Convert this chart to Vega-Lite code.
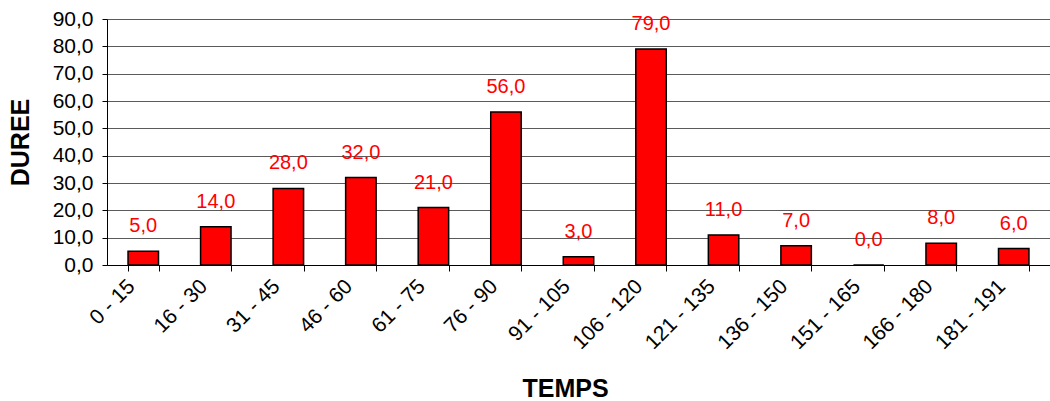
{
  "$schema": "https://vega.github.io/schema/vega-lite/v6.json",
  "autosize": {"type": "none"},
  "padding": {"left": 107, "top": 19, "right": 0, "bottom": 136},
  "width": 943,
  "height": 246,
  "config": {
    "locale": {"number": {"decimal": ",", "thousands": " ", "grouping": [3], "currency": ["", " €"]}},
    "view": {"stroke": null},
    "font": "Liberation Sans"
  },
  "data": {
    "values": [
      {"temps": "0 - 15", "duree": 5},
      {"temps": "16 - 30", "duree": 14},
      {"temps": "31 - 45", "duree": 28},
      {"temps": "46 - 60", "duree": 32},
      {"temps": "61 - 75", "duree": 21},
      {"temps": "76 - 90", "duree": 56},
      {"temps": "91 - 105", "duree": 3},
      {"temps": "106 - 120", "duree": 79},
      {"temps": "121 - 135", "duree": 11},
      {"temps": "136 - 150", "duree": 7},
      {"temps": "151 - 165", "duree": 0},
      {"temps": "166 - 180", "duree": 8},
      {"temps": "181 - 191", "duree": 6}
    ]
  },
  "encoding": {
    "x": {
      "field": "temps",
      "type": "nominal",
      "sort": null,
      "scale": {"paddingInner": 0.58, "paddingOuter": 0.29},
      "axis": {
        "title": "TEMPS",
        "titleFont": "Liberation Sans",
        "titleFontSize": 25,
        "titleFontWeight": "bold",
        "titleColor": "#000000",
        "titleX": 458,
        "titleY": 131,
        "titleAlign": "center",
        "titleBaseline": "alphabetic",
        "labelAngle": -45,
        "labelAlign": "right",
        "labelBaseline": "middle",
        "labelFontSize": 21,
        "labelColor": "#000000",
        "labelPadding": 12,
        "labelOffset": -12,
        "tickBand": "extent",
        "tickSize": 6,
        "tickColor": "#000000",
        "domainColor": "#000000",
        "grid": false
      }
    },
    "y": {
      "field": "duree",
      "type": "quantitative",
      "scale": {"domain": [0, 90], "nice": false},
      "axis": {
        "title": "DUREE",
        "titleFont": "Liberation Sans",
        "titleFontSize": 25,
        "titleFontWeight": "bold",
        "titleColor": "#000000",
        "titleX": -87,
        "titleY": 123,
        "titleAngle": 270,
        "titleAlign": "center",
        "titleBaseline": "middle",
        "values": [0, 10, 20, 30, 40, 50, 60, 70, 80, 90],
        "format": ".1f",
        "labelFontSize": 21,
        "labelColor": "#000000",
        "labelPadding": 9,
        "tickSize": 5,
        "tickColor": "#000000",
        "domainColor": "#000000",
        "grid": true,
        "gridColor": "#5a5a5a",
        "gridOpacity": 1
      }
    }
  },
  "layer": [
    {
      "mark": {"type": "bar", "color": "#FF0000", "stroke": "#000000", "strokeWidth": 1.5}
    },
    {
      "mark": {"type": "text", "color": "#FF0000", "fontSize": 20, "baseline": "middle", "dy": -25},
      "encoding": {
        "text": {"field": "duree", "type": "quantitative", "format": ".1f"}
      }
    }
  ]
}
